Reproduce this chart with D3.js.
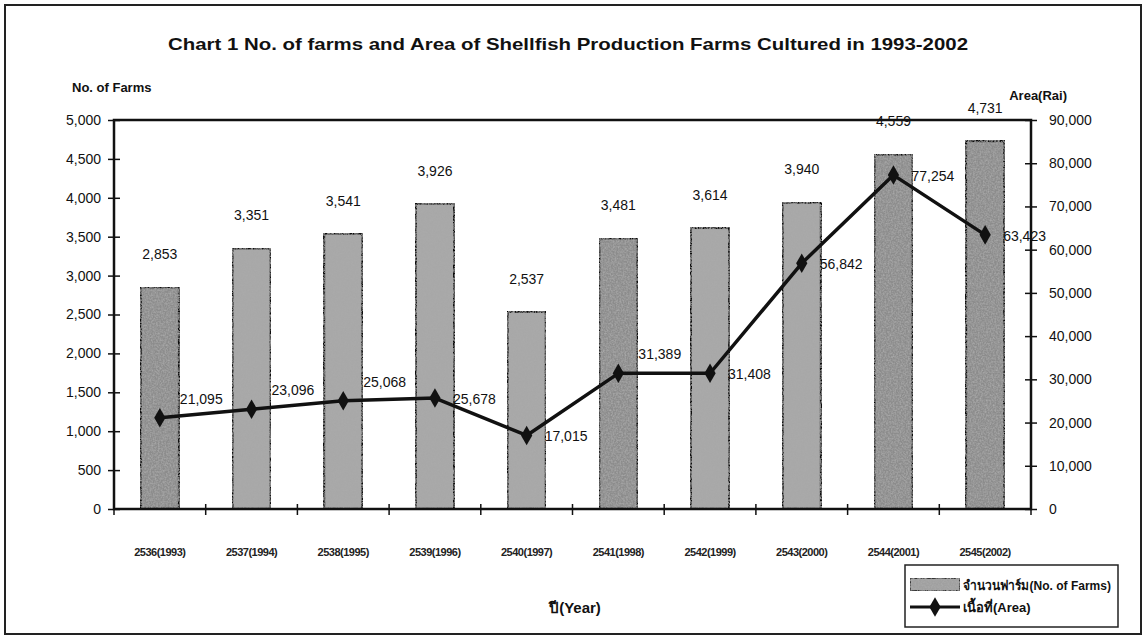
<!DOCTYPE html>
<html><head><meta charset="utf-8">
<script src="https://cdn.jsdelivr.net/npm/d3@7"></script>
<style>
body{margin:0;background:#fff;}
svg{display:block;font-family:"Liberation Sans",Arial,sans-serif;}
</style></head>
<body>
<svg id="c" width="1146" height="640"></svg>
<script>
const categories = ["2536(1993)","2537(1994)","2538(1995)","2539(1996)","2540(1997)","2541(1998)","2542(1999)","2543(2000)","2544(2001)","2545(2002)"];
const farms = [2853,3351,3541,3926,2537,3481,3614,3940,4559,4731];
const area = [21095,23096,25068,25678,17015,31389,31408,56842,77254,63423];
const farmTicks = [0,500,1000,1500,2000,2500,3000,3500,4000,4500,5000];
const areaTicks = [0,10000,20000,30000,40000,50000,60000,70000,80000,90000];
const areaLabelAbove = [true,true,true,false,false,true,false,false,false,false];
const title = "Chart 1 No. of farms and Area of Shellfish Production Farms Cultured in 1993-2002";
const leftTitle = "No. of Farms";
const rightTitle = "Area(Rai)";
const xTitle = "ปี(Year)";
const legendBar = "จำนวนฟาร์ม(No. of Farms)";
const legendLine = "เนื้อที่(Area)";

const svg = d3.select("#c");
const L=114, R=1031, T=120, B=509;
const fmt = d3.format(",");

const defs = svg.append("defs");
const f = defs.append("filter").attr("id","tex").attr("x",0).attr("y",0).attr("width",1).attr("height",1);
f.append("feTurbulence").attr("type","fractalNoise").attr("baseFrequency",0.6).attr("numOctaves",2).attr("seed",3).attr("result","n");
f.append("feColorMatrix").attr("in","n").attr("type","matrix")
 .attr("values","0 0 0 0 0.4  0 0 0 0 0.4  0 0 0 0 0.4  1.8 0 0 0 -0.6").attr("result","m");
f.append("feComposite").attr("in","m").attr("in2","SourceGraphic").attr("operator","in").attr("result","c");
const fm = f.append("feMerge");
fm.append("feMergeNode").attr("in","SourceGraphic");
fm.append("feMergeNode").attr("in","c");

// outer frame
svg.append("rect").attr("x",5).attr("y",5).attr("width",1136).attr("height",629)
  .attr("fill","none").attr("stroke","#222").attr("stroke-width",2);

svg.append("text").attr("x",568).attr("y",50).attr("text-anchor","middle")
  .attr("font-size",17).attr("font-weight","bold").attr("textLength",800).attr("lengthAdjust","spacingAndGlyphs")
  .attr("fill","#111").text(title);

const x = d3.scaleBand().domain(categories).range([L,R]).paddingInner(0.58).paddingOuter(0.29);
const xb = d3.scaleBand().domain(categories).range([L,R]);
const yL = d3.scaleLinear().domain([0,5000]).range([B,T]);
const yR = d3.scaleLinear().domain([0,90000]).range([B,T]);

// bars
svg.append("g").selectAll("rect").data(farms).join("rect")
  .attr("x",(d,i)=>x(categories[i])).attr("y",d=>yL(d))
  .attr("width",x.bandwidth()).attr("height",d=>B-yL(d))
  .attr("fill",(d,i)=>[0,5,8,9].includes(i)?"#8c8c8c":"#a8a8a8")
  .attr("stroke","#111").attr("stroke-width",2.4).attr("filter","url(#tex)");

// plot frame
svg.append("rect").attr("x",L).attr("y",T).attr("width",R-L).attr("height",B-T)
  .attr("fill","none").attr("stroke","#111").attr("stroke-width",2.5);

// side axes
const axL = d3.axisLeft(yL).tickValues(farmTicks).tickFormat(fmt).tickSize(6).tickPadding(12);
const gL = svg.append("g").attr("transform",`translate(${L},0)`).call(axL);
const axR = d3.axisRight(yR).tickValues(areaTicks).tickFormat(fmt).tickSize(6).tickPadding(12);
const gR = svg.append("g").attr("transform",`translate(${R},0)`).call(axR);
[gL,gR].forEach(g=>{
  g.select(".domain").remove();
  g.selectAll(".tick line").attr("stroke","#111").attr("stroke-width",1.5).attr("x1",-6).attr("x2",6);
  g.selectAll(".tick text").attr("font-size",14).attr("font-family","Liberation Sans, Arial").attr("fill","#111");
});
gL.selectAll(".tick text").attr("x",-13);
gR.selectAll(".tick text").attr("x",18);

// bottom axis (ticks at category boundaries)
const gB = svg.append("g").attr("transform",`translate(0,${B})`);
gB.selectAll("line").data(d3.range(categories.length+1)).join("line")
  .attr("x1",i=>L+i*xb.step()).attr("x2",i=>L+i*xb.step()).attr("y1",-5).attr("y2",6)
  .attr("stroke","#111").attr("stroke-width",1.5);
gB.selectAll("text").data(categories).join("text")
  .attr("x",d=>xb(d)+xb.bandwidth()/2).attr("y",47).attr("text-anchor","middle")
  .attr("font-size",11).attr("font-weight","bold").attr("fill","#222").attr("letter-spacing",-0.5).text(d=>d);

// axis titles
svg.append("text").attr("x",72).attr("y",92).attr("font-size",13).attr("font-weight","bold").attr("fill","#111").text(leftTitle);
svg.append("text").attr("x",1067).attr("y",100).attr("text-anchor","end").attr("font-size",13).attr("font-weight","bold").attr("fill","#111").text(rightTitle);
svg.append("text").attr("x",575).attr("y",613).attr("text-anchor","middle").attr("font-size",15).attr("font-weight","bold").attr("fill","#111").text(xTitle);

// bar labels
svg.append("g").selectAll("text").data(farms).join("text")
  .attr("x",(d,i)=>xb(categories[i])+xb.bandwidth()/2).attr("y",d=>yL(d)-28)
  .attr("text-anchor","middle").attr("font-size",14).attr("fill","#111").text(d=>fmt(d));

// line
const cx = i=>xb(categories[i])+xb.bandwidth()/2;
const line = d3.line().x((d,i)=>cx(i)).y(d=>yR(d));
svg.append("path").datum(area).attr("d",line).attr("fill","none").attr("stroke","#111").attr("stroke-width",3.5).attr("stroke-linejoin","round");
const diamond = d3.symbol().type(d3.symbolDiamond).size(110);
svg.append("g").selectAll("path").data(area).join("path")
  .attr("transform",(d,i)=>`translate(${cx(i)},${yR(d)})`).attr("d",diamond).attr("fill","#111");
svg.append("g").selectAll("text").data(area).join("text")
  .attr("x",(d,i)=>cx(i)+(areaLabelAbove[i]?20:18))
  .attr("y",(d,i)=>yR(d)+(areaLabelAbove[i]?-14:6))
  .attr("font-size",14).attr("fill","#111").text(d=>fmt(d));

// legend
const lg = svg.append("g").attr("transform","translate(905,565)");
lg.append("rect").attr("x",0).attr("y",0).attr("width",213).attr("height",62).attr("fill","#fff").attr("stroke","#222").attr("stroke-width",1.5);
lg.append("rect").attr("x",5).attr("y",13).attr("width",50).attr("height",13).attr("fill","#a0a0a0").attr("stroke","#111").attr("stroke-width",1.5).attr("filter","url(#tex)");
lg.append("text").attr("x",58).attr("y",25).attr("font-size",13).attr("font-weight","bold").attr("fill","#111")
  .attr("textLength",148).attr("lengthAdjust","spacingAndGlyphs").text(legendBar);
lg.append("line").attr("x1",5).attr("x2",55).attr("y1",42).attr("y2",42).attr("stroke","#111").attr("stroke-width",3);
lg.append("path").attr("transform","translate(30,42)").attr("d",diamond).attr("fill","#111");
lg.append("text").attr("x",58).attr("y",47).attr("font-size",13).attr("font-weight","bold").attr("fill","#111").text(legendLine);
</script></body></html>
